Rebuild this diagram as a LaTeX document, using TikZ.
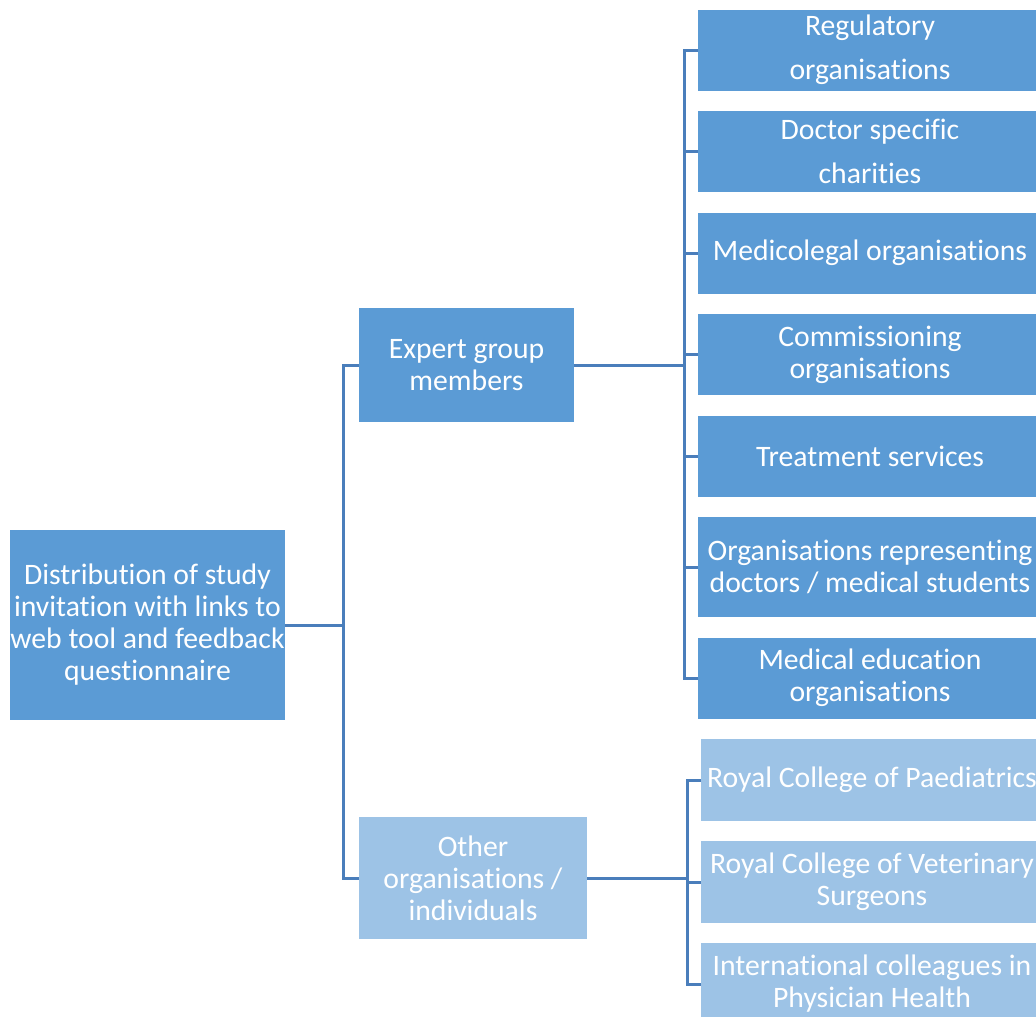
\documentclass[tikz,border=0pt]{standalone}
\usepackage{fontspec}
\setmainfont[Ligatures={NoCommon}]{Carlito}
\definecolor{boxdark}{HTML}{5B9BD5}
\definecolor{boxlight}{HTML}{9DC3E6}
\definecolor{linkblue}{HTML}{4A7EBB}
\tikzset{
  box/.style={rectangle, inner sep=0pt, outer sep=0pt, text=white, align=center,
    font=\fontsize{29.7}{32}\selectfont},
  darkbox/.style={box, fill=boxdark},
  lightbox/.style={box, fill=boxlight},
  link/.style={draw=linkblue, line width=3pt},
}
\begin{document}
\begin{tikzpicture}[x=1pt,y=-1pt]
\useasboundingbox (0,0) rectangle (1036,1017);
\fill[white] (0,0) rectangle (1036,1017);

% root
\node[darkbox, minimum width=273pt, minimum height=190pt] (root) at (147.5,625) {Distribution of study\\invitation with links to\\web tool and feedback\\questionnaire};

% second level
\node[darkbox, minimum width=215pt, minimum height=114pt] (expert) at (466.5,365) {Expert group\\members};
\node[lightbox, minimum width=228pt, minimum height=122pt] (other) at (473,878) {Other\\organisations /\\individuals};

% expert group members
\tikzset{rbox/.style={minimum width=344pt, minimum height=81pt}}
\node[darkbox, rbox] (r1) at (870,50) {Regulatory\\[12pt]organisations};
\node[darkbox, rbox] (r2) at (870,151) {Doctor specific\\[12pt]charities};
\node[darkbox, rbox] (r3) at (870,253) {Medicolegal organisations};
\node[darkbox, rbox] (r4) at (870,354.5) {Commissioning\\organisations};
\node[darkbox, rbox] (r5) at (870,456) {Treatment services};
\node[darkbox, rbox, minimum height=100pt] (r6) at (870,567) {Organisations representing\\doctors / medical students};
\node[darkbox, rbox] (r7) at (870,678) {Medical education\\organisations};

% other organisations / individuals
\tikzset{lbox/.style={minimum width=342pt, minimum height=82pt}}
\node[lightbox, lbox] (o1) at (872,780) {Royal College of Paediatrics};
\node[lightbox, lbox] (o2) at (872,882) {Royal College of Veterinary\\Surgeons};
\node[lightbox, lbox] (o3) at (872,984) {International colleagues in\\Physician Health};

% connectors: root to second level
\coordinate (j0) at (343,625);
\draw[link] (root.east) -- (j0);
\draw[link] (expert.west) -| (j0);
\draw[link] (other.west) -| (j0);

% connectors: expert group
\coordinate (j1) at (684,365);
\draw[link] (expert.east) -- (j1);
\foreach \n in {r1,r2,r3,r4,r5,r6,r7}
  \draw[link] (\n.west) -| (j1);

% connectors: other organisations
\coordinate (j2) at (687,878);
\draw[link] (other.east) -- (j2);
\foreach \n in {o1,o2,o3}
  \draw[link] (\n.west) -| (j2);
\end{tikzpicture}
\end{document}
